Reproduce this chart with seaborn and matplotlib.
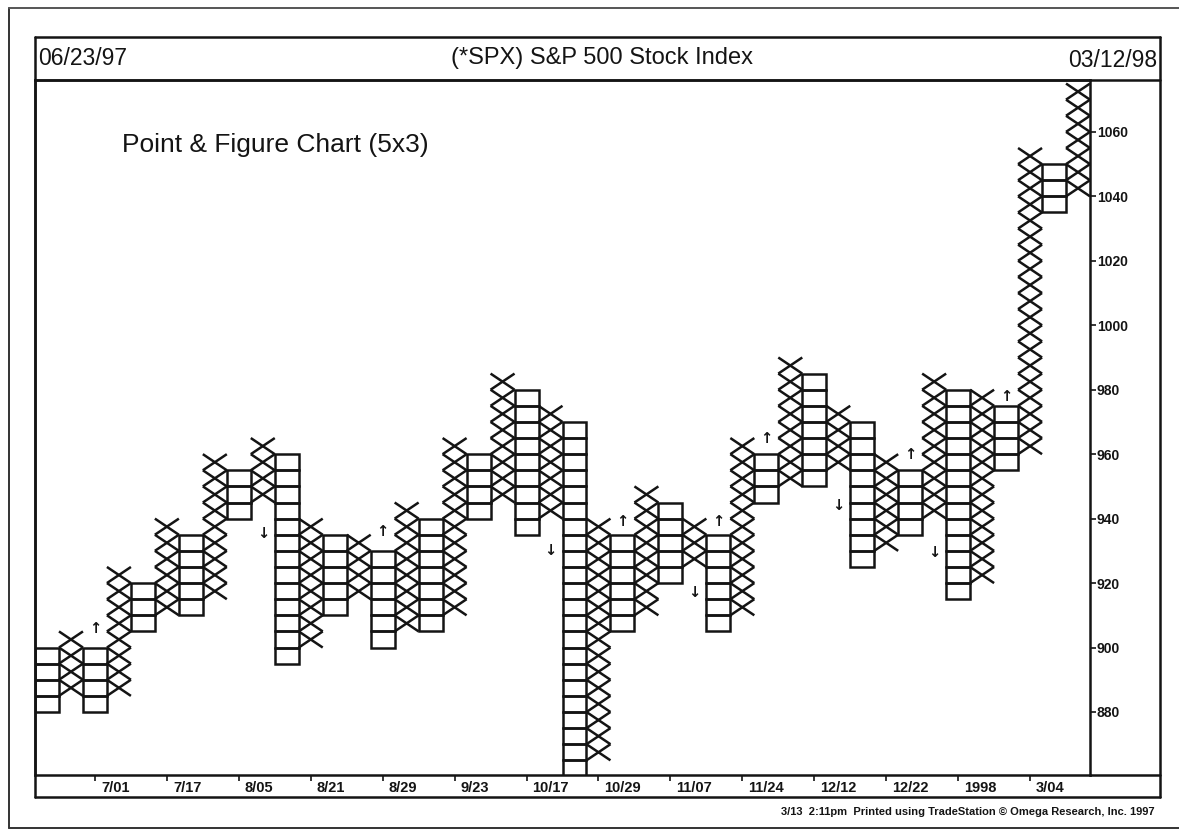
import numpy as np
import pandas as pd
import matplotlib
matplotlib.use("Agg")
import matplotlib.pyplot as plt
import seaborn as sns
from matplotlib.collections import LineCollection

# ---------------- data ----------------
box_size = 5
col_type = ["O", "X"] * 22
col_low = [880, 885, 880, 885, 905, 910, 910, 915, 940, 945,
           895, 900, 910, 915, 900, 905, 905, 910, 940, 945,
           935, 940, 860, 865, 905, 910, 920, 925, 905, 910,
           945, 950, 950, 955, 925, 930, 935, 940, 915, 920,
           955, 960, 1035, 1040]
col_high = [895, 900, 895, 920, 915, 935, 930, 955, 950, 960,
            955, 935, 930, 930, 925, 940, 935, 960, 955, 980,
            975, 970, 965, 935, 930, 945, 940, 935, 930, 960,
            955, 985, 980, 970, 965, 955, 950, 980, 975, 975,
            970, 1050, 1045, 1070]
y_ticks = [880, 900, 920, 940, 960, 980, 1000, 1020, 1040, 1060]
date_labels = ["7/01", "7/17", "8/05", "8/21", "8/29", "9/23", "10/17",
               "10/29", "11/07", "11/24", "12/12", "12/22", "1998", "3/04"]
date_cols = [2, 5, 8, 11, 14, 17, 20, 23, 26, 29, 32, 35, 38, 41]
up_arrow_cols = [2, 14, 24, 28, 30, 36, 40]
up_arrow_price = [906, 936, 939, 939, 965, 960, 978]
down_arrow_cols = [9, 21, 27, 33, 37]
down_arrow_price = [935.5, 930, 917, 944, 929.5]

title_left = "06/23/97"
title_mid = "(*SPX) S&P 500 Stock Index"
title_right = "03/12/98"
subtitle = "Point & Figure Chart (5x3)"
footer = "3/13  2:11pm  Printed using TradeStation \u00a9 Omega Research, Inc. 1997"

# --------------- boxes table ---------------
rows = []
for i, (t, lo, hi) in enumerate(zip(col_type, col_low, col_high)):
    for lvl in range(lo, hi + box_size, box_size):
        rows.append({"col": i, "kind": t, "level": lvl})
boxes = pd.DataFrame(rows)

# --------------- style ---------------
sns.set_theme(style="white")
plt.rcParams["font.family"] = ["Liberation Sans", "DejaVu Sans"]
ink = "#141414"

W, H = 1179, 834
fig = plt.figure(figsize=(W / 100, H / 100), dpi=100)
fig.patch.set_facecolor("white")

# overlay for frames / header
bg = fig.add_axes([0, 0, 1, 1])
bg.set_xlim(0, W)
bg.set_ylim(H, 0)
bg.axis("off")

L, R, T, B = 35, 1090, 80, 775
ax = fig.add_axes([L / W, (H - B) / H, (R - L) / W, (B - T) / H])
ax.set_facecolor("none")

lw_mark = 1.8
# O columns as stacked boxes
o = boxes[boxes.kind == "O"]
ax.bar(o["col"], box_size, bottom=o["level"], width=1.0, align="center",
       fill=False, edgecolor=ink, linewidth=lw_mark, zorder=3)

# X columns as crosses
x = boxes[boxes.kind == "X"]
segs = []
for c, lvl in zip(x["col"], x["level"]):
    segs.append([(c - 0.5, lvl), (c + 0.5, lvl + box_size)])
    segs.append([(c - 0.5, lvl + box_size), (c + 0.5, lvl)])
ax.add_collection(LineCollection(segs, colors=ink, linewidths=lw_mark, zorder=3,
                                 capstyle="butt"))

# signal arrows
for c, p in zip(up_arrow_cols, up_arrow_price):
    ax.text(c, p, "\u2191", ha="center", va="center", fontsize=10.5,
            fontweight="bold", family="DejaVu Sans", color=ink)
for c, p in zip(down_arrow_cols, down_arrow_price):
    ax.text(c, p, "\u2193", ha="center", va="center", fontsize=10.5,
            fontweight="bold", family="DejaVu Sans", color=ink)

ax.set_xlim(-0.5, len(col_type) - 0.5)
ax.set_ylim(860.45, 1076.1)

ax.yaxis.tick_right()
ax.set_yticks(y_ticks)
ax.set_yticklabels([str(v) for v in y_ticks], fontsize=10, fontweight="bold",
                   color=ink)
ax.tick_params(axis="y", direction="out", length=4, width=1.2, pad=1,
               colors=ink, right=True, left=False)
ax.set_xticks(date_cols)
ax.set_xticklabels([])
ax.tick_params(axis="x", direction="out", length=4, width=1.2, colors=ink,
               bottom=True)
for s in ax.spines.values():
    s.set_visible(True)
    s.set_color(ink)
    s.set_linewidth(1.8)
ax.grid(False)

# date labels in the strip under the plot
for c, lab in zip(date_cols, date_labels):
    ax.annotate(lab, xy=(c, 0), xycoords=("data", "axes fraction"),
                xytext=(6, -13), textcoords="offset pixels",
                ha="left", va="center", fontsize=10.5, fontweight="bold",
                color=ink)

# frames
lw = 1.8
bg.plot([L, 1160], [37, 37], color=ink, lw=lw)
bg.plot([L, 1160], [T, T], color=ink, lw=lw)
bg.plot([L, L], [37, 797], color=ink, lw=lw)
bg.plot([1160, 1160], [37, 797], color=ink, lw=lw)
bg.plot([R, 1160], [B, B], color=ink, lw=lw)
bg.plot([L, 1160], [797, 797], color=ink, lw=lw)
# outer scan border
bg.plot([9, 9], [8, 828], color="#333333", lw=1.4)
bg.plot([9, W], [828, 828], color="#333333", lw=1.4)
bg.plot([9, W], [8, 8], color="#555555", lw=1.4)

# header texts
bg.text(38, 58, title_left, ha="left", va="center", fontsize=16.5, color=ink)
bg.text(602, 58, title_mid, ha="center", va="center", fontsize=17, color=ink)
bg.text(1157, 60, title_right, ha="right", va="center", fontsize=16.5, color=ink)
bg.text(122, 145, subtitle, ha="left", va="center", fontsize=19, color=ink)
bg.text(1155, 812, footer, ha="right", va="center", fontsize=8,
        fontweight="bold", color=ink)

fig.savefig("out.png", dpi=100, facecolor="white")
